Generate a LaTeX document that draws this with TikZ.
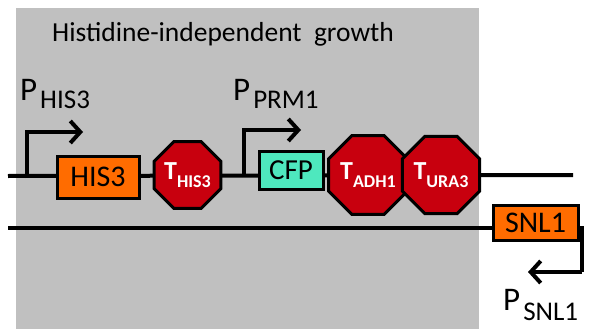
\documentclass[tikz,border=0pt]{standalone}
\usepackage{fontspec}
\setmainfont{Carlito}
\usetikzlibrary{shapes.geometric,arrows.meta}

\definecolor{panelgray}{RGB}{192,192,192}
\definecolor{geneorange}{RGB}{255,108,0}
\definecolor{cfpcyan}{RGB}{78,232,190}
\definecolor{termred}{RGB}{200,0,14}

\newcommand{\fsz}[1]{\fontsize{#1}{#1}\selectfont}
% promoter label: big P with lowered subscript
\newcommand{\promlabel}[2]{{\fsz{33}P}\hspace{3pt}\raisebox{-#2}{\fsz{27}#1}}
% terminator label: bold white T with lowered subscript
\newcommand{\termlabel}[1]{\bfseries{\fsz{26}T}\raisebox{-8pt}{\fsz{18}#1}}

\tikzset{
  dna/.style={line width=4pt},
  genebox/.style={draw=black, line width=3pt, inner sep=0pt, fill=geneorange,
    font=\fsz{30}},
  terminator/.style={regular polygon, regular polygon sides=8, draw=black,
    line width=3pt, fill=termred, text=white, inner sep=0pt,
    minimum size=72pt},
  promoter/.style={line width=4pt, -{Straight Barb[length=10pt,width=22pt]}},
  plabel/.style={inner sep=0pt, anchor=base west},
}

\begin{document}
\begin{tikzpicture}[x=1pt, y=-1pt]
\useasboundingbox (0,0) rectangle (589,329);

% shaded region
\fill[panelgray] (16,8) rectangle (479,329);
\node[plabel] (title) at (52,42) {\fsz{27.5}Histidine-independent\hspace{0.45em}growth};

% DNA strands
\coordinate (topL) at (8,176);
\coordinate (topR) at (573,175);
\coordinate (botL) at (8,228);
\coordinate (botR) at (582,228);
\coordinate (snlbend) at (582,272);
\coordinate (snltip) at (528,272);
\draw[dna] (topL) -- (topR);
\draw[dna, line join=miter] (botL) -- (botR) -- (snlbend);

% promoters
\coordinate (p1a) at (27,178);
\coordinate (p1b) at (27,132);
\coordinate (p1c) at (83,132);
\coordinate (p2a) at (244,177);
\coordinate (p2b) at (244,130);
\coordinate (p2c) at (301,130);
\draw[promoter] (p1a) -- (p1b) -- (p1c);
\draw[promoter] (p2a) -- (p2b) -- (p2c);
\draw[promoter] (snlbend) -- (snltip);

% genes
\node[genebox, minimum width=82pt, minimum height=42pt] (his3) at (98,177) {HIS3};
\node[genebox, fill=cfpcyan, minimum width=64pt, minimum height=38pt, font=\fsz{29}] (cfp) at (291,170) {CFP};
\node[genebox, minimum width=85pt, minimum height=35pt] (snl1) at (535.5,222.5) {SNL1};

% terminators
\node[terminator] (this3) at (187.5,175) {\termlabel{HIS3}};
\node[terminator] (tadh1) at (368,175) {\termlabel{ADH1}};
\node[terminator] (tura3) at (441,175) {\termlabel{URA3}};

% promoter labels
\node[plabel] (lhis3) at (20,100) {\promlabel{HIS3}{8pt}};
\node[plabel] (lprm1) at (233,100) {\promlabel{PRM1}{8pt}};
\node[plabel] (lsnl1) at (503,310) {\promlabel{SNL1}{10pt}};
\end{tikzpicture}
\end{document}
